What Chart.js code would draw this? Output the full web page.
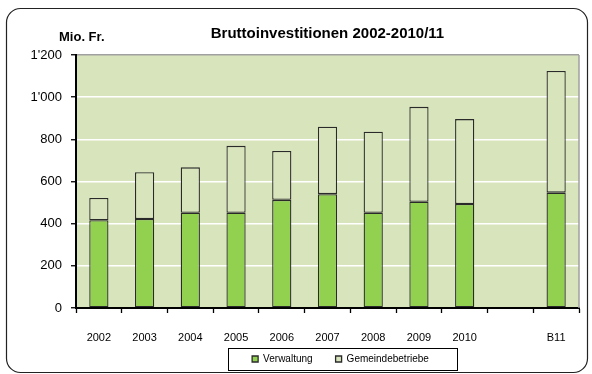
<!DOCTYPE html>
<html>
<head>
<meta charset="utf-8">
<script src="https://cdn.jsdelivr.net/npm/chart.js@4/dist/chart.umd.min.js"></script>
<style>
  body { margin: 0; background: #fff; }
  canvas { display: block; }
</style>
</head>
<body>
<canvas id="chart" width="592" height="374"></canvas>
<script>
const categories = ["2002", "2003", "2004", "2005", "2006", "2007", "2008", "2009", "2010", "", "B11"];
const verwaltung = [416, 422, 452, 452, 513, 540, 452, 504, 493, null, 547];
const gemeindebetriebe = [106, 222, 215, 317, 232, 320, 384, 450, 403, null, 577];
const yMin = 0;
const yMax = 1200;
const yStep = 200;

const FONT = "'Liberation Sans', Arial, sans-serif";
const plotBg = "#d8e4bc";

// apostrophe as thousands separator, like 1'200
const formatTick = (v) => String(v).replace(/\B(?=(\d{3})+(?!\d))/g, "'");

const framePlugin = {
  id: "frame",
  afterLayout(chart) {
    // wider gap between the two legend entries, without making the legend taller
    const legend = chart.legend;
    legend.options.labels.padding = 23;
    legend.top -= 13;
  },
  beforeDraw(chart) {
    const { ctx, chartArea } = chart;
    ctx.save();
    ctx.fillStyle = "#fff";
    ctx.fillRect(0, 0, chart.width, chart.height);
    ctx.beginPath();
    ctx.roundRect(6.5, 8.5, 581, 364, 14);
    ctx.strokeStyle = "#222";
    ctx.lineWidth = 1.2;
    ctx.stroke();
    ctx.fillStyle = plotBg;
    ctx.fillRect(chartArea.left, chartArea.top, chartArea.right - chartArea.left, chartArea.bottom - chartArea.top);
    ctx.restore();
  },
  afterDraw(chart) {
    const { ctx, chartArea, legend } = chart;
    ctx.save();
    // grey right edge of the plot area
    ctx.strokeStyle = "#a0a0a0";
    ctx.lineWidth = 1.5;
    ctx.beginPath();
    ctx.moveTo(chartArea.right, chartArea.top);
    ctx.lineTo(chartArea.right, chartArea.bottom);
    ctx.stroke();

    // unit label
    ctx.fillStyle = "#000";
    ctx.font = "bold 13px " + FONT;
    ctx.textAlign = "left";
    ctx.textBaseline = "middle";
    ctx.fillText("Mio. Fr.", 59, 37);

    // box around the legend
    const boxes = legend.legendHitBoxes;
    if (boxes && boxes.length) {
      const left = Math.min(...boxes.map((b) => b.left)) - 24;
      const right = Math.max(...boxes.map((b) => b.left + b.width)) + 28;
      const mid = boxes[0].top + boxes[0].height / 2;
      ctx.strokeStyle = "#000";
      ctx.lineWidth = 1;
      ctx.strokeRect(Math.round(left) + 0.5, Math.round(mid - 11) + 0.5, Math.round(right - left), 22);
    }
    ctx.restore();
  },
};

const ctx = document.getElementById("chart").getContext("2d");
new Chart(ctx, {
  type: "bar",
  data: {
    labels: categories,
    datasets: [
      {
        label: "Verwaltung",
        data: verwaltung,
        backgroundColor: "#92d050",
        borderColor: "#2a2a2a",
        borderWidth: 1.3,
        borderSkipped: false,
      },
      {
        label: "Gemeindebetriebe",
        data: gemeindebetriebe,
        backgroundColor: plotBg,
        borderColor: "#2a2a2a",
        borderWidth: 1.3,
        borderSkipped: false,
      },
    ],
  },
  options: {
    responsive: false,
    animation: false,
    layout: { padding: { left: 10, right: 13, top: 0, bottom: 0 } },
    datasets: {
      bar: { barPercentage: 0.42, categoryPercentage: 1.0 },
    },
    scales: {
      x: {
        stacked: true,
        offset: true,
        afterFit: (s) => { s.height = 36; },
        grid: {
          offset: true,
          drawOnChartArea: false,
          drawTicks: true,
          tickLength: 5,
          tickColor: "#000",
          tickWidth: 1.3,
        },
        border: { color: "#000", width: 2 },
        ticks: {
          color: "#000",
          padding: 18,
          maxRotation: 0,
          font: { family: FONT, size: 11 },
        },
      },
      y: {
        stacked: true,
        min: yMin,
        max: yMax,
        afterFit: (s) => { s.width = 66; },
        grid: {
          color: (c) => (c.tick && c.tick.value === yMin ? "rgba(0,0,0,0)" : c.tick && c.tick.value === yMax ? "#a0a0a0" : "#ffffff"),
          lineWidth: 1.5,
          drawTicks: true,
          tickLength: 5,
          tickColor: "#000",
          tickWidth: 1.3,
        },
        border: { color: "#000", width: 2 },
        ticks: {
          stepSize: yStep,
          color: "#000",
          padding: 9,
          font: { family: FONT, size: 13 },
          callback: (v) => formatTick(v),
        },
      },
    },
    plugins: {
      title: {
        display: true,
        fullSize: false,
        text: "Bruttoinvestitionen 2002-2010/11",
        color: "#000",
        font: { family: FONT, size: 15, weight: "bold" },
        padding: { top: 25, bottom: 12 },
      },
      legend: {
        position: "bottom",
        fullSize: false,
        labels: {
          color: "#000",
          boxWidth: 6,
          boxHeight: 6,
          padding: 10,
          font: { family: FONT, size: 10 },
        },
      },
      tooltip: { enabled: false },
    },
  },
  plugins: [framePlugin],
});
</script>
</body>
</html>
